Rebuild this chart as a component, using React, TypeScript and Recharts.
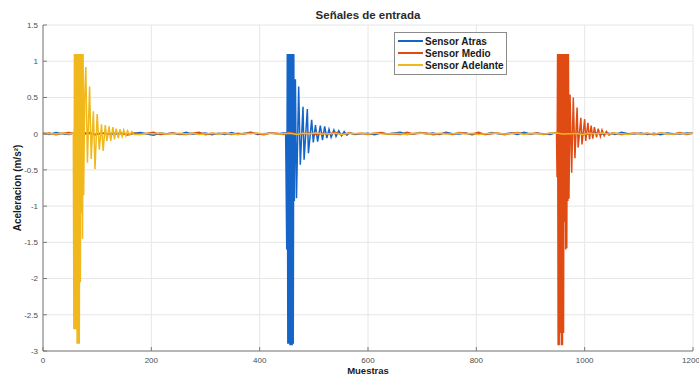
import { CartesianGrid, Legend, Line, LineChart, XAxis, YAxis } from "recharts"

// baseline noise, one value every NOISE_STEP samples (0..1200)
const NOISE_STEP = 12

const atrasNoise = [
  0.01, -0.01, 0.015, 0.0, -0.01, 0.02, -0.01, 0.005, -0.015, 0.01,
  0.0, -0.01, 0.01, -0.015, 0.005, 0.015, -0.005, -0.02, 0.01, 0.0,
  0.005, -0.01, 0.02, -0.005, 0.0, 0.01, -0.015, 0.005, -0.01, 0.015,
  -0.01, 0.005, 0.02, -0.01, 0.0, 0.01, -0.005, 0.01, -0.02, 0.005,
  0.015, -0.005, 0.0, 0.02, -0.01, 0.005, -0.01, 0.015, -0.01, 0.0,
  0.005, -0.015, 0.01, -0.005, 0.01, 0.02, -0.01, 0.0, 0.015, -0.005,
  0.01, -0.01, 0.02, 0.0, -0.005, 0.01, -0.015, 0.005, -0.01, 0.015,
  0.0, -0.005, 0.01, -0.01, 0.02, -0.005, 0.005, 0.0, -0.01, 0.015,
  -0.005, 0.01, 0.02, -0.015, 0.0, 0.01, -0.005, 0.005, -0.01, 0.02,
  0.0, -0.005, 0.01, -0.01, 0.005, -0.015, 0.01, 0.0, -0.005, 0.01,
  0.005,
]

const medioNoise = [
  -0.005, 0.01, -0.015, 0.005, 0.015, -0.005, 0.0, 0.02, -0.01, 0.005,
  -0.005, 0.01, 0.0, -0.015, 0.01, -0.005, 0.005, 0.02, -0.01, 0.0,
  0.01, -0.005, -0.01, 0.005, 0.02, -0.015, 0.005, 0.0, 0.01, -0.01,
  0.005, -0.005, 0.015, 0.0, -0.015, 0.01, 0.005, -0.01, 0.02, -0.005,
  0.0, 0.01, -0.01, 0.005, -0.005, 0.02, -0.015, 0.01, 0.0, 0.005,
  -0.01, 0.005, 0.015, -0.005, 0.0, -0.01, 0.02, -0.005, 0.005, 0.01,
  -0.015, 0.0, 0.005, -0.01, 0.015, 0.005, -0.005, 0.02, -0.01, 0.0,
  0.01, -0.015, 0.005, 0.015, -0.005, 0.0, 0.01, -0.01, 0.005, -0.005,
  0.02, -0.01, 0.0, 0.005, -0.005, 0.01, -0.015, 0.01, 0.005, -0.01,
  0.0, 0.01, -0.005, 0.005, -0.015, 0.01, 0.0, -0.005, 0.015, -0.01,
  0.005,
]

const adelanteNoise = [
  0.005, 0.0, -0.005, 0.01, -0.005, 0.005, 0.0, -0.01, 0.005, 0.005,
  -0.005, 0.01, 0.0, -0.005, 0.005, -0.01, 0.005, 0.0, 0.01, -0.005,
  0.0, 0.005, -0.005, 0.01, -0.01, 0.0, 0.005, -0.005, 0.005, 0.0,
  -0.01, 0.005, 0.0, 0.01, -0.005, 0.005, -0.005, 0.0, 0.005, -0.01,
  0.005, 0.0, 0.01, -0.005, 0.0, 0.005, -0.01, 0.005, 0.0, 0.005,
  -0.005, 0.01, 0.0, -0.005, 0.005, 0.0, -0.01, 0.005, 0.01, -0.005,
  0.0, 0.005, -0.005, 0.0, 0.01, -0.005, 0.005, -0.01, 0.0, 0.005,
  0.005, -0.005, 0.0, 0.01, -0.01, 0.005, 0.0, -0.005, 0.005, 0.01,
  -0.005, 0.0, 0.005, -0.01, 0.005, 0.0, 0.01, -0.005, 0.005, 0.0,
  -0.01, 0.005, 0.0, 0.005, -0.005, 0.01, 0.0, -0.005, 0.005, 0.0,
  0.005,
]

// impact bursts as [sample, value]
const atrasBurst: [number, number][] = [
  [448, 0.01], [450, -1.6], [451, 1.1], [452, -2.9], [453, 1.1], [454, -2.9],
  [455, 1.1], [456, -2.92], [457, 1.1], [458, -2.92], [459, 1.1], [460, -2.92],
  [461, 1.1], [462, -2.9], [463, 1.1], [464, -0.93], [466, 0.75], [468, -0.89],
  [472, 0.65], [475, -0.43], [480, 0.37], [482, -0.36], [488, 0.34], [490, -0.27],
  [496, 0.19], [499, -0.12], [503, 0.12], [507, -0.11], [512, 0.11], [516, -0.09],
  [520, 0.1], [524, -0.06], [528, 0.06], [532, -0.05], [537, 0.05], [541, -0.04],
  [546, 0.04], [551, -0.03], [556, 0.03], [561, -0.02], [566, 0.01],
]

const medioBurst: [number, number][] = [
  [948, 0.01], [949, -0.6], [950, 1.1], [951, -2.92], [952, 1.1], [953, -2.92],
  [954, 1.1], [955, -2.75], [956, 1.1], [957, -2.92], [958, 1.1], [959, -2.92],
  [960, 1.1], [961, -2.75], [962, 1.1], [963, -1.22], [964, 1.1], [965, -1.6],
  [966, 1.1], [967, -1.58], [968, 1.1], [969, -0.93], [970, 1.1], [971, -0.9],
  [973, 0.54], [976, -0.54], [979, 0.5], [982, -0.34], [986, 0.36], [988, -0.19],
  [993, 0.22], [995, -0.15], [1000, 0.2], [1002, -0.1], [1006, 0.15], [1009, -0.08],
  [1012, 0.11], [1015, -0.07], [1018, 0.09], [1022, -0.05], [1025, 0.07], [1029, -0.04],
  [1032, 0.05], [1036, -0.03], [1040, 0.03], [1045, -0.02], [1050, 0.01],
]

const adelanteBurst: [number, number][] = [
  [56, 0.01], [57, -2.7], [58, 1.1], [59, -2.7], [60, 1.1], [61, -2.7],
  [62, 1.1], [63, -2.9], [64, 1.1], [65, -2.9], [66, 1.1], [67, -2.9],
  [68, 1.1], [69, -2.05], [70, 1.1], [71, -1.1], [72, 1.1], [73, -1.45],
  [74, 1.1], [75, -0.85], [77, 0.5], [79, 0.92], [82, -0.4], [86, 0.65],
  [89, -0.35], [93, 0.31], [96, -0.49], [100, 0.27], [104, -0.22], [108, 0.13],
  [111, -0.24], [115, 0.12], [118, -0.1], [122, 0.1], [125, -0.1], [129, 0.09],
  [132, -0.08], [135, 0.07], [139, -0.06], [142, 0.06], [146, -0.04], [149, 0.05],
  [153, -0.03], [156, 0.04], [160, -0.02], [164, 0.03], [168, -0.01],
]

const seriesNames = ["Sensor Atras", "Sensor Medio", "Sensor Adelante"]
const xTicks = [0, 200, 400, 600, 800, 1000, 1200]
const yTicks = [-3, -2.5, -2, -1.5, -1, -0.5, 0, 0.5, 1, 1.5]

function buildSeries(noise: number[], burst: [number, number][]) {
  const start = burst[0][0]
  const end = burst[burst.length - 1][0]
  const base = noise
    .map((y, i) => ({ x: i * NOISE_STEP, y }))
    .filter((p) => p.x < start || p.x > end)
  return [...base, ...burst.map(([x, y]) => ({ x, y }))].sort((a, b) => a.x - b.x)
}

const atras = buildSeries(atrasNoise, atrasBurst)
const medio = buildSeries(medioNoise, medioBurst)
const adelante = buildSeries(adelanteNoise, adelanteBurst)

const FONT = "'Liberation Sans', Arial, sans-serif"
const tickStyle = { fontSize: 8, fill: "#4d4d4d", fontFamily: FONT }

function LegendBox({ payload }: any) {
  const items = [...(payload || [])].sort(
    (a: any, b: any) => seriesNames.indexOf(a.value) - seriesNames.indexOf(b.value)
  )
  return (
    <div
      style={{
        border: "1px solid #8a8a8a",
        background: "#fff",
        padding: "2px 0 3px 3px",
        width: 113,
        boxSizing: "border-box",
      }}
    >
      {items.map((p: any) => (
        <div key={p.value} style={{ display: "flex", alignItems: "center", height: 12 }}>
          <div style={{ width: 25, height: 2, background: p.color, marginRight: 2 }} />
          <span style={{ fontFamily: FONT, fontWeight: "bold", fontSize: 10, color: "#1a1a1a" }}>
            {p.value}
          </span>
        </div>
      ))}
    </div>
  )
}

export default function App() {
  return (
    <div style={{ position: "absolute", left: 0, top: 0, width: 699, height: 375, background: "#fff" }}>
      <div
        style={{
          position: "absolute",
          left: 0,
          width: 736,
          top: 9,
          textAlign: "center",
          fontFamily: FONT,
          fontWeight: "bold",
          fontSize: 11.5,
          color: "#2b2b2b",
        }}
      >
        Señales de entrada
      </div>
      <LineChart width={699} height={375} margin={{ top: 25, right: 6, bottom: 0, left: 0 }}>
        <CartesianGrid stroke="#e6e6e6" />
        <XAxis
          type="number"
          dataKey="x"
          domain={[0, 1200]}
          ticks={xTicks}
          height={24}
          stroke="#7a7a7a"
          tick={tickStyle}
          tickSize={-4}
          tickMargin={10}
          label={{
            value: "Muestras",
            position: "insideBottom",
            offset: 1,
            style: { fontFamily: FONT, fontWeight: "bold", fontSize: 9.5, fill: "#1a1a1a" },
          }}
        />
        <XAxis
          xAxisId="top"
          orientation="top"
          type="number"
          dataKey="x"
          domain={[0, 1200]}
          ticks={xTicks}
          height={0}
          stroke="#7a7a7a"
          tickSize={-4}
          tickFormatter={() => ""}
        />
        <YAxis
          type="number"
          domain={[-3, 1.5]}
          ticks={yTicks}
          allowDataOverflow
          width={43}
          stroke="#7a7a7a"
          tick={tickStyle}
          tickSize={-4}
          tickMargin={9}
          label={{
            value: "Aceleracion (m/s²)",
            angle: -90,
            position: "insideLeft",
            offset: 17,
            style: { textAnchor: "middle", fontFamily: FONT, fontWeight: "bold", fontSize: 10, fill: "#1a1a1a" },
          }}
        />
        <YAxis
          yAxisId="right"
          orientation="right"
          type="number"
          domain={[-3, 1.5]}
          ticks={yTicks}
          width={0}
          stroke="#7a7a7a"
          tickSize={-4}
          tickFormatter={() => ""}
        />
        <Legend
          layout="vertical"
          align="center"
          verticalAlign="middle"
          content={<LegendBox />}
          wrapperStyle={{ left: 394, top: 32, width: 113 }}
        />
        <Line data={atras} dataKey="y" name={seriesNames[0]} type="linear" stroke="#1565c8" strokeWidth={1.5} dot={false} isAnimationActive={false} />
        <Line data={medio} dataKey="y" name={seriesNames[1]} type="linear" stroke="#e04b14" strokeWidth={1.5} dot={false} isAnimationActive={false} />
        <Line data={adelante} dataKey="y" name={seriesNames[2]} type="linear" stroke="#f0b81c" strokeWidth={1.5} dot={false} isAnimationActive={false} />
      </LineChart>
    </div>
  )
}
